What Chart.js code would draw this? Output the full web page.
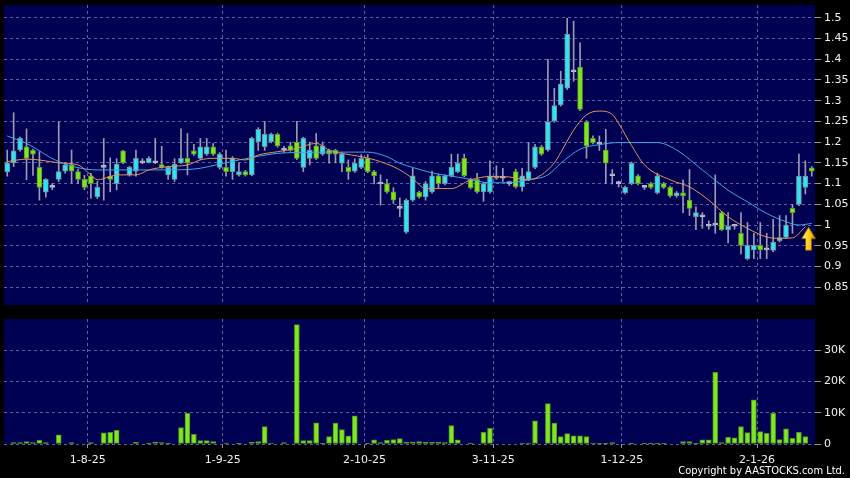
<!DOCTYPE html>
<html>
<head>
<meta charset="utf-8">
<script src="https://cdn.jsdelivr.net/npm/chart.js@4"></script>
<style>
  html, body { margin: 0; padding: 0; background: #000; }
  #wrap { position: relative; width: 850px; height: 478px; overflow: hidden; }
  #price { position: absolute; left: 0; top: 0; }
  #vol { position: absolute; left: 0; top: 310px; }
  #copy { position: absolute; right: 5px; top: 464px; color: #fff;
          font: 11px "DejaVu Sans Condensed", "DejaVu Sans", sans-serif; }
</style>
</head>
<body>
<div id="wrap">
  <canvas id="price" width="850" height="310"></canvas>
  <canvas id="vol" width="850" height="168"></canvas>
  <div id="copy">Copyright by AASTOCKS.com Ltd.</div>
</div>
<script>
// month ticks (index of first trading day of the month)
const monthStart = [13, 34, 56, 76, 96, 117];
const monthLabels = ['1-8-25', '1-9-25', '2-10-25', '3-11-25', '1-12-25', '2-1-26'];
const priceTicks = [0.85, 0.9, 0.95, 1, 1.05, 1.1, 1.15, 1.2, 1.25, 1.3, 1.35, 1.4, 1.45, 1.5];
const volTicks = [0, 10000, 20000, 30000];

const opens = [1.128,1.150,1.181,1.189,1.180,1.139,1.079,1.091,1.110,1.130,
  1.146,1.129,1.110,1.119,1.068,1.139,1.118,1.100,1.179,1.121,
  1.130,1.150,1.150,1.150,1.146,1.121,1.110,1.150,1.161,1.179,
  1.161,1.171,1.189,1.139,1.139,1.129,1.121,1.129,1.121,1.201,
  1.189,1.201,1.219,1.181,1.191,1.200,1.139,1.161,1.191,1.171,
  1.180,1.180,1.149,1.139,1.130,1.139,1.161,1.129,1.099,1.100,
  1.080,1.040,0.983,1.060,1.079,1.068,1.080,1.119,1.100,1.119,
  1.129,1.161,1.110,1.110,1.080,1.080,1.113,1.113,1.100,1.129,
  1.092,1.110,1.139,1.189,1.181,1.251,1.290,1.330,1.370,1.381,
  1.249,1.209,1.195,1.181,1.119,1.100,1.078,1.100,1.119,1.091,
  1.100,1.078,1.100,1.091,1.070,1.078,1.060,1.020,1.020,0.997,
  1.000,1.030,0.989,0.997,0.980,0.919,0.940,0.951,0.940,0.939,
  0.962,0.970,1.040,1.050,1.091,1.138];
const highs = [1.181,1.271,1.212,1.232,1.183,1.177,1.112,1.100,1.249,1.150,
  1.181,1.135,1.120,1.125,1.105,1.209,1.162,1.160,1.180,1.142,
  1.181,1.160,1.165,1.209,1.190,1.142,1.160,1.232,1.221,1.195,
  1.209,1.209,1.197,1.175,1.181,1.165,1.150,1.132,1.212,1.235,
  1.250,1.222,1.222,1.190,1.200,1.250,1.212,1.200,1.221,1.200,
  1.183,1.183,1.174,1.157,1.160,1.170,1.170,1.132,1.121,1.110,
  1.090,1.065,1.063,1.137,1.082,1.105,1.130,1.123,1.122,1.171,
  1.171,1.171,1.113,1.125,1.103,1.155,1.143,1.137,1.105,1.135,
  1.137,1.199,1.195,1.192,1.400,1.330,1.371,1.499,1.492,1.440,
  1.252,1.215,1.215,1.231,1.134,1.106,1.094,1.152,1.122,1.095,
  1.103,1.125,1.103,1.094,1.081,1.109,1.134,1.044,1.030,1.010,
  1.121,1.033,1.030,1.000,1.030,1.006,0.980,1.006,0.980,1.014,
  1.023,1.023,1.050,1.171,1.155,1.141];
const lows = [1.118,1.141,1.178,1.109,1.120,1.060,1.067,1.085,1.105,1.125,
  1.101,1.100,1.085,1.064,1.064,1.060,1.080,1.085,1.148,1.118,
  1.118,1.148,1.150,1.148,1.137,1.110,1.105,1.148,1.121,1.168,
  1.158,1.168,1.168,1.135,1.118,1.110,1.118,1.118,1.119,1.180,
  1.180,1.198,1.188,1.175,1.178,1.158,1.129,1.145,1.158,1.168,
  1.149,1.150,1.129,1.110,1.127,1.136,1.126,1.099,1.048,1.077,
  1.052,1.020,0.980,1.057,1.065,1.060,1.077,1.090,1.097,1.116,
  1.126,1.116,1.087,1.077,1.057,1.077,1.110,1.105,1.095,1.089,
  1.082,1.107,1.136,1.168,1.178,1.248,1.287,1.327,1.347,1.276,
  1.161,1.196,1.180,1.100,1.099,1.092,1.075,1.097,1.097,1.086,
  1.088,1.075,1.088,1.067,1.067,1.030,1.023,0.989,0.992,0.990,
  0.980,0.986,0.957,0.990,0.930,0.916,0.919,0.919,0.919,0.936,
  0.959,0.967,0.980,1.047,1.075,1.118];
const closes = [1.150,1.179,1.209,1.161,1.171,1.091,1.110,1.091,1.129,1.145,
  1.130,1.110,1.091,1.100,1.091,1.139,1.110,1.147,1.150,1.139,
  1.161,1.150,1.161,1.150,1.139,1.139,1.147,1.161,1.150,1.171,
  1.189,1.189,1.171,1.171,1.129,1.161,1.129,1.121,1.209,1.231,
  1.219,1.219,1.191,1.181,1.180,1.161,1.209,1.181,1.161,1.191,
  1.171,1.171,1.171,1.129,1.149,1.161,1.129,1.119,1.099,1.080,
  1.060,1.040,1.060,1.119,1.068,1.100,1.119,1.100,1.119,1.139,
  1.149,1.119,1.090,1.080,1.100,1.119,1.119,1.113,1.100,1.092,
  1.119,1.129,1.189,1.171,1.249,1.288,1.340,1.461,1.370,1.279,
  1.191,1.199,1.195,1.149,1.119,1.100,1.091,1.149,1.100,1.091,
  1.091,1.119,1.091,1.070,1.078,1.070,1.040,1.030,1.020,0.997,
  1.000,0.989,0.997,0.997,0.951,0.951,0.951,0.940,0.940,0.959,
  0.970,1.000,1.030,1.118,1.118,1.130];
const volumes = [0,430,430,750,430,1200,430,0,2900,0,
  430,0,0,430,0,3550,3760,4400,0,0,
  540,0,100,650,430,200,0,5270,9800,3100,
  1080,1080,750,0,320,0,200,0,650,750,
  5600,320,0,430,0,38200,1080,1080,6800,100,
  2370,6700,4600,2500,9000,0,200,1300,430,1180,
  1400,1720,650,650,750,540,540,540,430,5900,
  1300,0,200,0,3760,5050,0,0,0,0,
  320,320,7400,0,12900,6700,2370,3330,2580,2580,
  2370,320,200,200,430,0,0,200,0,200,
  200,200,200,0,0,750,750,200,1300,1300,
  22900,430,2150,1940,5600,3650,14100,3980,3440,9800,
  1400,4840,1830,3760,2370,0];

// moving averages at these candle indexes
const ma10Idx = [0,3,5,8,11,13,14,16,17,20,22,25,28,30,32,35,37,39,42,45,48,50,52,55,58,61,63,65,69,72,75,78,81,83,85,86,88,90,92,94,95,97,99,103,106,109,112,115,118,120,122,124];
const ma10 = [1.153,1.159,1.157,1.150,1.145,1.121,1.109,1.117,1.121,1.121,1.133,1.141,1.145,1.157,1.161,1.161,1.157,1.169,1.177,1.185,1.197,1.181,1.173,1.165,1.153,1.133,1.112,1.088,1.088,1.109,1.117,1.116,1.109,1.121,1.150,1.175,1.229,1.266,1.275,1.267,1.245,1.192,1.145,1.109,1.092,1.060,1.020,0.992,0.971,0.968,0.969,0.996];
const ma20Idx = [0,3,8,14,20,25,28,30,33,36,42,45,51,56,59,61,63,66,71,75,78,81,84,86,89,92,95,101,104,108,112,115,118,121,123,125];
const ma20 = [1.215,1.197,1.153,1.133,1.133,1.133,1.134,1.137,1.147,1.157,1.173,1.175,1.176,1.176,1.165,1.149,1.139,1.126,1.113,1.102,1.102,1.109,1.121,1.149,1.183,1.194,1.199,1.199,1.181,1.133,1.084,1.056,1.028,1.008,1.000,1.004];

// yellow arrow marker: candle index and price span
const arrowIdx = 124.5;
const arrowSpan = [0.939, 0.995];

const N = closes.length;
const gridCol = '#6060a0';
const labelFont = { family: 'DejaVu Sans', size: 11 };

const panelBg = {
  id: 'panelBg',
  beforeDraw(c) {
    const { ctx, chartArea: a } = c;
    ctx.save();
    ctx.fillStyle = '#000052';
    ctx.fillRect(a.left, a.top, a.right - a.left, a.bottom - a.top);
    ctx.restore();
  }
};

const arrowMark = {
  id: 'arrowMark',
  afterDatasetsDraw(c) {
    const { ctx, scales } = c;
    const x = scales.x.getPixelForValue(arrowIdx);
    const top = scales.y.getPixelForValue(arrowSpan[1]);
    const bot = scales.y.getPixelForValue(arrowSpan[0]);
    const head = (bot - top) * 0.5;
    const g = ctx.createLinearGradient(x - 7, 0, x + 7, 0);
    g.addColorStop(0, '#fff27a');
    g.addColorStop(0.5, '#ffd21c');
    g.addColorStop(1, '#c98a00');
    ctx.save();
    ctx.fillStyle = g;
    ctx.strokeStyle = '#8a5a00';
    ctx.lineWidth = 0.8;
    ctx.beginPath();
    ctx.moveTo(x, top);
    ctx.lineTo(x + 7, top + head);
    ctx.lineTo(x + 3, top + head);
    ctx.lineTo(x + 3, bot);
    ctx.lineTo(x - 3, bot);
    ctx.lineTo(x - 3, top + head);
    ctx.lineTo(x - 7, top + head);
    ctx.closePath();
    ctx.fill();
    ctx.stroke();
    ctx.restore();
  }
};

function candleFill(i) {
  if (closes[i] > opens[i]) return '#2ee6f2';
  if (closes[i] < opens[i]) return '#7ee622';
  return '#b8b8c8';
}
function candleEdge(i) {
  if (closes[i] > opens[i]) return '#7a8a9a';
  if (closes[i] < opens[i]) return '#5c9a20';
  return '#b8b8c8';
}

function xScale(showLabels) {
  return {
    type: 'linear', min: -0.5, max: N - 0.5, offset: false,
    afterBuildTicks: s => { s.ticks = monthStart.map(m => ({ value: m - 0.5 })); },
    ticks: {
      display: showLabels, color: '#f0f0f0', font: labelFont, padding: 6,
      maxRotation: 0, autoSkip: false,
      callback: (v, k) => monthLabels[k]
    },
    grid: { offset: false, color: gridCol, drawTicks: showLabels, tickLength: 4, tickColor: '#9090b0', tickBorderDash: [] },
    border: { display: false, dash: [3, 3] },
    afterFit: s => {
      s.height = showLabels ? 34 : 0;
      s.paddingLeft = 0; s.paddingRight = 0;
    }
  };
}

function yScale(min, max, ticks, fmt) {
  return {
    position: 'right', min, max,
    afterBuildTicks: s => { s.ticks = ticks.map(v => ({ value: v })); },
    ticks: { color: '#f0f0f0', font: labelFont, padding: 3, callback: fmt },
    grid: { color: gridCol, tickLength: 6, tickColor: '#9090b0', tickBorderDash: [] },
    border: { display: false, dash: [3, 3] },
    afterFit: s => {
      s.width = 35;
      s.paddingTop = 0; s.paddingBottom = 0;
    }
  };
}

new Chart(document.getElementById('price'), {
  type: 'bar',
  data: {
    datasets: [
      {
        type: 'line', label: 'MA10', order: 0,
        data: ma10Idx.map((x, k) => ({ x, y: ma10[k] })),
        borderColor: '#e8915c', borderWidth: 1, pointRadius: 0,
        cubicInterpolationMode: 'monotone'
      },
      {
        type: 'line', label: 'MA20', order: 1,
        data: ma20Idx.map((x, k) => ({ x, y: ma20[k] })),
        borderColor: '#3aa6e8', borderWidth: 1, pointRadius: 0,
        cubicInterpolationMode: 'monotone'
      },
      {
        label: 'body', order: 2, grouped: false,
        data: opens.map((o, i) => ({ x: i, y: [o, closes[i]] })),
        barThickness: 5, minBarLength: 2,
        backgroundColor: opens.map((o, i) => candleFill(i)),
        borderColor: opens.map((o, i) => candleEdge(i)),
        borderWidth: 1, borderSkipped: false
      },
      {
        label: 'wick', order: 3, grouped: false,
        data: highs.map((h, i) => ({ x: i, y: [lows[i], h] })),
        barThickness: 1,
        backgroundColor: '#9a9ab4'
      }
    ]
  },
  options: {
    responsive: false, animation: false,
    layout: { padding: { left: 4, top: 5, bottom: 5 } },
    plugins: { legend: { display: false }, tooltip: { enabled: false } },
    scales: {
      x: xScale(false),
      y: yScale(0.807, 1.531, priceTicks, v => String(+v.toFixed(2)))
    }
  },
  plugins: [panelBg, arrowMark]
});

new Chart(document.getElementById('vol'), {
  type: 'bar',
  data: {
    datasets: [{
      label: 'Volume', grouped: false,
      data: volumes.map((v, i) => ({ x: i, y: v })),
      barThickness: 5,
      backgroundColor: '#7ee622', borderColor: '#4f9418',
      borderWidth: 1, borderSkipped: false
    }]
  },
  options: {
    responsive: false, animation: false,
    layout: { padding: { left: 4, top: 9 } },
    plugins: { legend: { display: false }, tooltip: { enabled: false } },
    scales: {
      x: xScale(true),
      y: yScale(0, 40000, volTicks, v => v === 0 ? '0' : (v / 1000) + 'K')
    }
  },
  plugins: [panelBg]
});
</script>
</body>
</html>
